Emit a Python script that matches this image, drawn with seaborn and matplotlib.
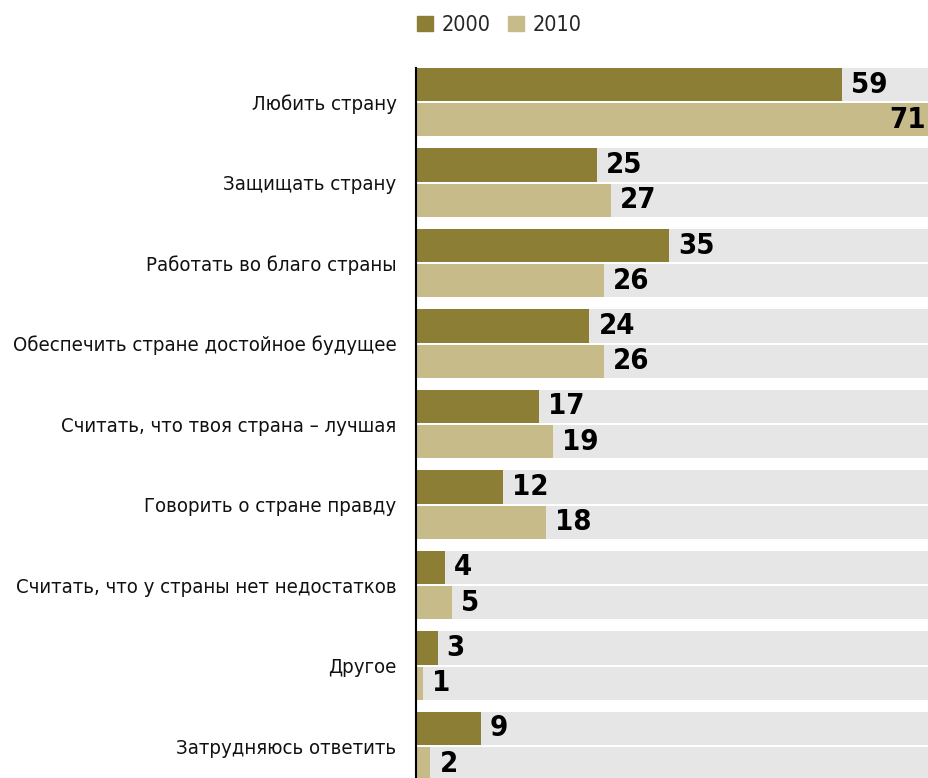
import matplotlib.pyplot as plt
import matplotlib.patches as mpatches
import seaborn as sns
import pandas as pd

# Data
categories = [
    "Любить страну",
    "Защищать страну",
    "Работать во благо страны",
    "Обеспечить стране достойное будущее",
    "Считать, что твоя страна – лучшая",
    "Говорить о стране правду",
    "Считать, что у страны нет недостатков",
    "Другое",
    "Затрудняюсь ответить",
]
years = ["2000", "2010"]
values_2000 = [59, 25, 35, 24, 17, 12, 4, 3, 9]
values_2010 = [71, 27, 26, 26, 19, 18, 5, 1, 2]

dark = "#8d7e35"
light = "#c7bb8a"
track = "#e6e6e6"

df = pd.DataFrame({
    "category": categories * 2,
    "year": [years[0]] * len(categories) + [years[1]] * len(categories),
    "value": values_2000 + values_2010,
})
xmax = df["value"].max()
df_track = df.assign(value=xmax)

sns.set_theme(style="white")
plt.rcParams["font.family"] = ["DejaVu Sans"]
plt.rcParams["font.stretch"] = "condensed"

fig = plt.figure(figsize=(9.29, 7.78), dpi=100)
ax = fig.add_axes([416 / 929, 0, 1 - 416 / 929, 1 - 68 / 778])

bar_kw = dict(y="category", x="value", hue="year", orient="h", width=0.87, gap=0.057,
              errorbar=None, saturation=1, linewidth=0, ax=ax)
sns.barplot(data=df_track, palette=[track, track], legend=False, **bar_kw)
n_track = len(ax.patches)
sns.barplot(data=df, palette=[dark, light], legend=False, **bar_kw)

ax.set_xlim(0, xmax)
ax.set_ylim(8.3975, -0.4225)
ax.set_xlabel("")
ax.set_ylabel("")
ax.set_xticks([])
ax.tick_params(axis="y", length=0, pad=14, labelsize=14.6, labelcolor="#111111")

for side in ["top", "right", "bottom"]:
    ax.spines[side].set_visible(False)
ax.spines["left"].set_color("black")
ax.spines["left"].set_linewidth(1.5)
ax.spines["left"].set_zorder(5)

# value labels: outside the bar, or inside when the bar fills the axis
for bar in ax.patches[n_track:]:
    w = bar.get_width()
    yc = bar.get_y() + bar.get_height() / 2
    inside = w >= xmax
    ax.annotate(f"{w:.0f}", (w, yc), xytext=(-2 if inside else 6.5, 0),
                textcoords="offset points", ha="right" if inside else "left",
                va="center", fontsize=21, fontweight="bold", color="black")

handles = [mpatches.Patch(color=dark, label=years[0]),
           mpatches.Patch(color=light, label=years[1])]
fig.legend(handles=handles, loc="center left", bbox_to_anchor=(408 / 929, 1 - 25 / 778),
           ncol=2, frameon=False, fontsize=15.5, handlelength=0.75, handleheight=0.75,
           handletextpad=0.4, columnspacing=0.8, borderaxespad=0)

fig.savefig("out.png", dpi=100)
